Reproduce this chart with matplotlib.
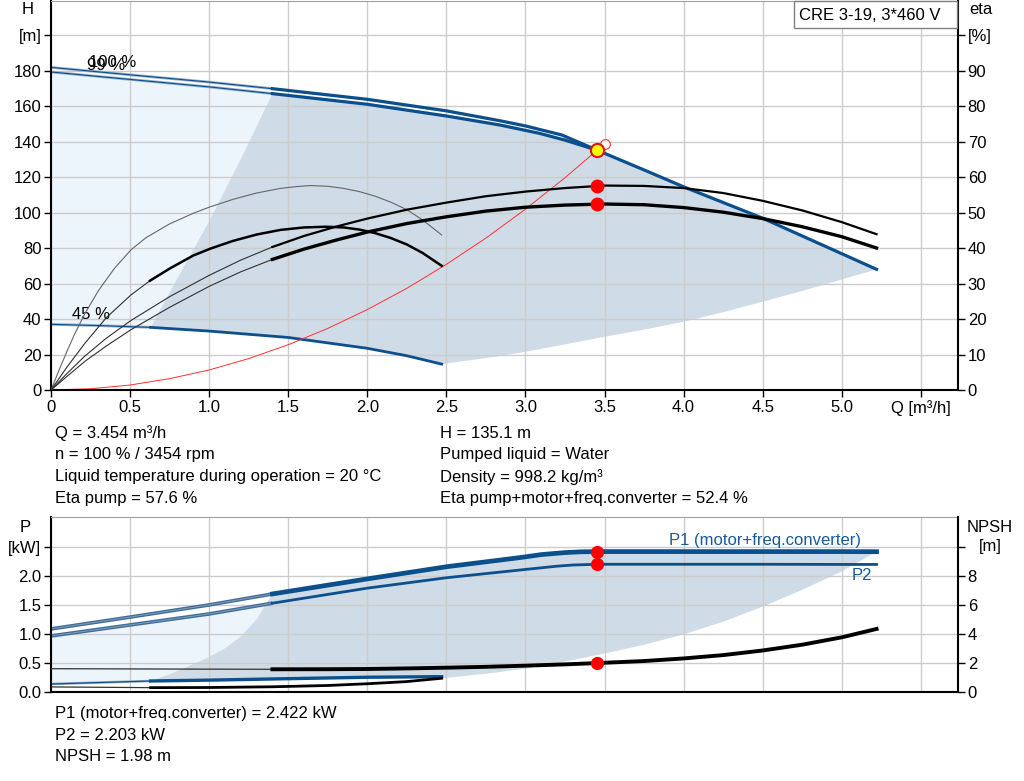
import numpy as np
import matplotlib
matplotlib.use("Agg")
import matplotlib.pyplot as plt
from matplotlib.patches import Rectangle

plt.rcParams['font.family'] = ['Liberation Sans', 'DejaVu Sans']
FS = 12

# ---- QH curves (Q in m3/h, H in m)
q_100 = [0, 0.5, 1.0, 1.4, 2.0, 2.5, 2.84, 3.0, 3.23, 3.47]
h_100 = [181.8, 177.6, 173.5, 169.8, 163.8, 157.3, 151.7, 148.8, 143.7, 134.5]
q_99 = [0, 0.5, 1.0, 1.4, 2.0, 2.5, 2.84, 3.09, 3.25, 3.454, 3.75, 4.0, 4.5, 5.0, 5.22]
h_99 = [179.2, 175.0, 170.8, 167.0, 161.0, 154.4, 149.3, 144.6, 140.8, 135.1, 124.0, 114.5, 96.8, 76.8, 68.0]
q_45 = [0, 0.3, 0.63, 1.0, 1.5, 2.0, 2.25, 2.47]
h_45 = [37.0, 36.3, 35.3, 33.2, 29.6, 23.5, 19.3, 14.6]

# operating area edges
q_edge = [0.63, 0.8, 1.0, 1.2, 1.4]
h_edge = [35.3, 63.0, 95.0, 130.0, 167.0]
q_low = [2.47, 2.75, 2.84, 3.0, 3.25, 3.5, 3.75, 4.0, 4.25, 4.5, 4.75, 5.0, 5.22]
h_low = [14.6, 18.0, 19.2, 21.5, 25.7, 30.0, 34.0, 38.5, 43.8, 49.8, 55.8, 62.3, 68.0]

# system curve
q_sys = [0, 0.25, 0.5, 0.75, 1.0, 1.25, 1.5, 1.75, 2.0, 2.25, 2.5, 2.75, 3.0, 3.25, 3.5]
h_sys = [0, 0.7, 2.8, 6.4, 11.3, 17.7, 25.5, 34.7, 45.3, 57.3, 70.8, 85.6, 101.9, 119.6, 138.7]

# efficiency curves (%)
q_eta45p = [0, 0.05, 0.1, 0.15, 0.215, 0.3, 0.4, 0.506, 0.6, 0.75, 0.9, 1.006, 1.15, 1.3,
            1.45, 1.55, 1.64, 1.75, 1.85, 1.95, 2.05, 2.15, 2.25, 2.35, 2.47]
eta45p = [0, 5.5, 10.8, 15.8, 21.6, 28.0, 34.2, 39.5, 42.9, 46.8, 49.8, 51.6, 53.7, 55.5,
          56.8, 57.3, 57.6, 57.4, 56.8, 55.9, 54.6, 52.9, 50.8, 47.9, 43.7]
q_eta45t = [0, 0.1, 0.215, 0.35, 0.506, 0.626, 0.75, 0.9, 1.006, 1.15, 1.3, 1.45, 1.6, 1.74,
            1.85, 1.95, 2.05, 2.15, 2.25, 2.35, 2.47]
eta45t = [0, 6.4, 13.2, 20.4, 26.8, 30.8, 34.2, 37.9, 39.8, 42.0, 43.8, 45.1, 45.8, 46.0,
          45.8, 45.2, 44.2, 42.8, 41.0, 38.6, 35.0]
q_etap = [0, 0.1, 0.215, 0.35, 0.506, 0.75, 1.0, 1.2, 1.4, 1.6, 1.8, 2.0, 2.25, 2.5, 2.75,
          3.0, 3.25, 3.5, 3.75, 4.0, 4.25, 4.5, 4.75, 5.0, 5.22]
etap = [0, 4.6, 9.6, 14.6, 19.6, 26.3, 32.3, 36.6, 40.3, 43.4, 46.0, 48.3, 50.8, 52.8, 54.6,
        55.9, 56.9, 57.6, 57.5, 56.9, 55.5, 53.3, 50.6, 47.3, 43.9]
q_etat = [0, 0.1, 0.215, 0.35, 0.506, 0.75, 1.0, 1.2, 1.4, 1.6, 1.8, 2.0, 2.25, 2.5, 2.75,
          3.0, 3.25, 3.5, 3.75, 4.0, 4.25, 4.5, 4.75, 5.0, 5.22]
etat = [0, 3.8, 8.1, 12.4, 17.0, 23.3, 29.2, 33.3, 36.8, 39.7, 42.2, 44.5, 46.9, 48.8, 50.4,
        51.5, 52.1, 52.4, 52.2, 51.4, 50.1, 48.3, 46.0, 43.2, 40.0]

# ---- power / NPSH curves
q_p1 = [0, 0.5, 1.0, 1.4, 2.0, 2.5, 2.97, 3.1, 3.25, 3.35, 3.454, 4.0, 4.5, 5.0, 5.22]
p1 = [1.085, 1.29, 1.50, 1.69, 1.95, 2.16, 2.32, 2.37, 2.405, 2.418, 2.422, 2.422, 2.422, 2.422, 2.42]
q_p2 = [0, 0.5, 1.0, 1.4, 2.0, 2.5, 2.97, 3.2, 3.3, 3.454, 4.0, 4.5, 5.0, 5.22]
p2 = [0.964, 1.154, 1.344, 1.53, 1.79, 1.97, 2.105, 2.17, 2.19, 2.203, 2.203, 2.203, 2.2, 2.2]
q_npsh = [0, 0.5, 1.0, 1.4, 1.75, 2.0, 2.25, 2.5, 2.75, 3.0, 3.25, 3.454, 3.75, 4.0, 4.25,
          4.5, 4.75, 5.0, 5.22]
npsh = [1.59, 1.575, 1.56, 1.55, 1.555, 1.57, 1.61, 1.66, 1.72, 1.80, 1.89, 1.98, 2.12, 2.30,
        2.53, 2.85, 3.25, 3.76, 4.34]
q_p45 = [0, 0.63, 1.0, 1.4, 2.0, 2.47]
p45 = [0.133, 0.185, 0.20, 0.22, 0.25, 0.26]
q_npsh45 = [0, 0.63, 1.0, 1.4, 1.75, 2.0, 2.25, 2.47]
npsh45 = [0.33, 0.28, 0.29, 0.34, 0.43, 0.55, 0.70, 0.93]

q_pedge = [0.63, 0.75, 0.92, 1.0, 1.1, 1.2, 1.3, 1.4]
p_edge = [0.185, 0.30, 0.50, 0.60, 0.75, 0.95, 1.25, 1.69]
q_plow = [2.47, 2.75, 3.0, 3.25, 3.5, 3.75, 4.0, 4.25, 4.5, 4.75, 5.0, 5.22]
p_low = [0.23, 0.31, 0.40, 0.52, 0.66, 0.81, 0.99, 1.21, 1.47, 1.76, 2.08, 2.42]

# duty point
q_duty = 3.454
h_duty = 135.1
eta_pump = 57.6
eta_tot = 52.4
p1_duty = 2.422
p2_duty = 2.203
npsh_duty = 1.98

x_ticks = [0, 0.5, 1.0, 1.5, 2.0, 2.5, 3.0, 3.5, 4.0, 4.5, 5.0, 5.5]
x_labels = ['0', '0.5', '1.0', '1.5', '2.0', '2.5', '3.0', '3.5', '4.0', '4.5', '5.0', 'Q [m³/h]']

BLUE = '#0B4F8C'
DARK = '#CFDBE6'
LIGHT = '#EDF5FC'
GRID = '#CCCCCC'

W, H = 1024, 781


def box(l, t, r, b):
    return [l / W, 1 - b / H, (r - l) / W, (b - t) / H]


def part(q, y, lo, hi):
    q = np.asarray(q, float)
    y = np.asarray(y, float)
    m = (q >= lo - 1e-9) & (q <= hi + 1e-9)
    return q[m], y[m]


def thin_line(a, q, y, color=BLUE, outer='#9DB3C9', lw=0.8, olw=2.0):
    a.plot(q, y, color=outer, lw=olw, solid_capstyle='butt')
    a.plot(q, y, color=color, lw=lw, solid_capstyle='butt')


def style_axes(a):
    a.tick_params(direction='out', length=5, width=1, pad=2, labelsize=FS)
    for s in ['left', 'bottom', 'right']:
        a.spines[s].set_linewidth(1.5)
        a.spines[s].set_color('black')
    a.spines['top'].set_color('#A0A0A0')
    a.spines['top'].set_linewidth(0.8)


fig = plt.figure(figsize=(10.24, 7.81), dpi=100)

# ================= top chart =================
ax = fig.add_axes(box(51, 1, 958, 390))
ax.set_xlim(0, 5.735)
ax.set_ylim(0, 219.2)
ax.set_axisbelow('line')
ax.grid(True, color=GRID, lw=1)
style_axes(ax)
ax.spines['right'].set_visible(False)
ax.set_xticks(x_ticks)
ax.set_xticklabels(x_labels)
ax.set_yticks(range(0, 201, 20))
ax.set_yticklabels([str(v) for v in range(0, 181, 20)] + ['[m]'])

# light area
q99a, h99a = part(q_99, h_99, 0, 2.5)
ax.fill(np.r_[q99a, q_45[::-1]], np.r_[h99a, h_45[::-1]], color=LIGHT, lw=0)
# operating area
q99b, h99b = part(q_99, h_99, 1.4, 5.22)
q45b, h45b = part(q_45, h_45, 0.63, 2.47)
ax.fill(np.r_[q_edge, q99b, q_low[::-1], q45b[::-1]],
        np.r_[h_edge, h99b, h_low[::-1], h45b[::-1]], color=DARK, lw=0)

# QH curves
qa, ha = part(q_100, h_100, 0, 1.4)
thin_line(ax, qa, ha)
qa, ha = part(q_100, h_100, 1.4, 5)
ax.plot(qa, ha, color=BLUE, lw=2.3)
qa, ha = part(q_99, h_99, 0, 1.4)
thin_line(ax, qa, ha)
ax.plot(q99b, h99b, color=BLUE, lw=2.3)
qa, ha = part(q_45, h_45, 0, 0.63)
thin_line(ax, qa, ha)
ax.plot(q45b, h45b, color=BLUE, lw=2.0)

ax.text(0.24, 184.8, '100 %', ha='left', va='center', fontsize=FS)
ax.text(0.228, 182.8, '99 %', ha='left', va='center', fontsize=FS)
ax.text(0.133, 42.3, '45 %', ha='left', va='center', fontsize=FS)

# system curve
ax.plot(q_sys, h_sys, color='#FF3030', lw=0.7)
ax.plot(q_sys[-1], h_sys[-1], 'o', ms=7, mfc='white', mec='#FF3030', mew=0.8)
ax.plot(q_duty, h_duty, 'o', ms=9.5, mfc='#FFFF00', mec='#E81010', mew=1.5, zorder=5)

# efficiency axis
ax2 = ax.twinx()
ax2.set_ylim(0, 219.2 / 2)
style_axes(ax2)
for s in ['left', 'bottom', 'top']:
    ax2.spines[s].set_visible(False)
ax2.set_yticks(range(0, 101, 10))
ax2.set_yticklabels([str(v) for v in range(0, 91, 10)] + ['[%]'])

ax2.plot(q_eta45p, eta45p, color='#666666', lw=0.8)
qa, ea = part(q_eta45t, eta45t, 0, 0.626)
ax2.plot(qa, ea, color='#303030', lw=0.8)
qa, ea = part(q_eta45t, eta45t, 0.626, 3)
ax2.plot(qa, ea, color='black', lw=1.8)
qa, ea = part(q_etap, etap, 0, 1.4)
ax2.plot(qa, ea, color='#303030', lw=0.8)
qa, ea = part(q_etap, etap, 1.4, 6)
ax2.plot(qa, ea, color='black', lw=1.6)
qa, ea = part(q_etat, etat, 0, 1.4)
ax2.plot(qa, ea, color='#303030', lw=0.8)
qa, ea = part(q_etat, etat, 1.4, 6)
ax2.plot(qa, ea, color='black', lw=2.4)
ax2.plot([q_duty, q_duty], [eta_pump, eta_tot], 'o', ms=9, color='#FF0000', lw=0)

fig.text(28 / W, 1 - 10 / H, 'H', ha='center', va='center', fontsize=FS)
fig.text(981 / W, 1 - 10 / H, 'eta', ha='center', va='center', fontsize=FS)

# model box
fig.add_artist(Rectangle((794 / W, 1 - 28 / H), 163 / W, 27 / H, transform=fig.transFigure,
                         fc='white', ec='#808080', lw=1, zorder=10))
fig.text(870 / W, 1 - 15 / H, 'CRE 3-19, 3*460 V', ha='center', va='center',
         fontsize=FS, zorder=11)

# info text
left_rows = ['Q = 3.454 m³/h', 'n = 100 % / 3454 rpm',
             'Liquid temperature during operation = 20 °C', 'Eta pump = 57.6 %']
right_rows = ['H = 135.1 m', 'Pumped liquid = Water', 'Density = 998.2 kg/m³',
              'Eta pump+motor+freq.converter = 52.4 %']
for i, (a, b) in enumerate(zip(left_rows, right_rows)):
    y = 433 + i * 21.8
    fig.text(55 / W, 1 - y / H, a, ha='left', va='center', fontsize=FS)
    fig.text(440 / W, 1 - y / H, b, ha='left', va='center', fontsize=FS)

# ================= bottom chart =================
ax3 = fig.add_axes(box(51, 517, 958, 691.7))
ax3.set_xlim(0, 5.735)
ax3.set_ylim(0, 3.02)
ax3.set_axisbelow('line')
ax3.grid(True, color=GRID, lw=1)
style_axes(ax3)
ax3.spines['right'].set_visible(False)
ax3.set_xticks(x_ticks)
ax3.tick_params(axis='x', length=0, labelbottom=False)
ax3.set_yticks([0, 0.5, 1.0, 1.5, 2.0, 2.5])
ax3.set_yticklabels(['0.0', '0.5', '1.0', '1.5', '2.0', '[kW]'])

qp2a, pp2a = part(q_p2, p2, 0, 2.5)
ax3.fill(np.r_[qp2a, q_p45[::-1]], np.r_[pp2a, p45[::-1]], color=LIGHT, lw=0)
qp1b, pp1b = part(q_p1, p1, 1.4, 5.22)
qp45b, pp45b = part(q_p45, p45, 0.63, 2.47)
ax3.fill(np.r_[q_pedge, qp1b, q_plow[::-1], qp45b[::-1]],
         np.r_[p_edge, pp1b, p_low[::-1], pp45b[::-1]], color=DARK, lw=0)

qa, pa = part(q_p1, p1, 0, 1.4)
thin_line(ax3, qa, pa, color='#7F9CBB', outer='#3F6C98', lw=0.7, olw=2.6)
ax3.plot(qp1b, pp1b, color=BLUE, lw=3.4)
qa, pa = part(q_p2, p2, 0, 1.4)
thin_line(ax3, qa, pa, color='#7F9CBB', outer='#3F6C98', lw=0.7, olw=2.6)
qa, pa = part(q_p2, p2, 1.4, 6)
ax3.plot(qa, pa, color=BLUE, lw=2.0)
qa, pa = part(q_p45, p45, 0, 0.63)
thin_line(ax3, qa, pa, color=BLUE, outer='#8FA8C0', lw=0.8, olw=1.8)
ax3.plot(qp45b, pp45b, color=BLUE, lw=2.4)
ax3.plot([q_duty, q_duty], [p1_duty, p2_duty], 'o', ms=8.5, color='#FF0000', lw=0, zorder=6)

fig.text(669 / W, 1 - 540.7 / H, 'P1 (motor+freq.converter)', ha='left', va='center',
         fontsize=FS, color='#1A5A97')
fig.text(852 / W, 1 - 575.7 / H, 'P2', ha='left', va='center', fontsize=FS, color='#1A5A97')

ax4 = ax3.twinx()
ax4.set_ylim(0, 3.02 * 4)
style_axes(ax4)
for s in ['left', 'bottom', 'top']:
    ax4.spines[s].set_visible(False)
ax4.set_yticks([0, 2, 4, 6, 8, 10])
ax4.set_yticklabels(['0', '2', '4', '6', '8', ''])

qa, na = part(q_npsh, npsh, 0, 1.4)
ax4.plot(qa, na, color='#303030', lw=0.9)
qa, na = part(q_npsh, npsh, 1.4, 6)
ax4.plot(qa, na, color='black', lw=2.8)
qa, na = part(q_npsh45, npsh45, 0, 0.63)
ax4.plot(qa, na, color='#303030', lw=0.9)
qa, na = part(q_npsh45, npsh45, 0.63, 3)
ax4.plot(qa, na, color='black', lw=2.0)
ax4.plot(q_duty, npsh_duty, 'o', ms=8.5, color='#FF0000')

fig.text(25 / W, 1 - 527 / H, 'P', ha='center', va='center', fontsize=FS)
fig.text(990 / W, 1 - 527 / H, 'NPSH', ha='center', va='center', fontsize=FS)
fig.text(990 / W, 1 - 546.5 / H, '[m]', ha='center', va='center', fontsize=FS)

bottom_rows = ['P1 (motor+freq.converter) = 2.422 kW', 'P2 = 2.203 kW', 'NPSH = 1.98 m']
for i, t in enumerate(bottom_rows):
    y = 713.5 + i * 21.5
    fig.text(55 / W, 1 - y / H, t, ha='left', va='center', fontsize=FS)

fig.savefig('out.png', dpi=100)
